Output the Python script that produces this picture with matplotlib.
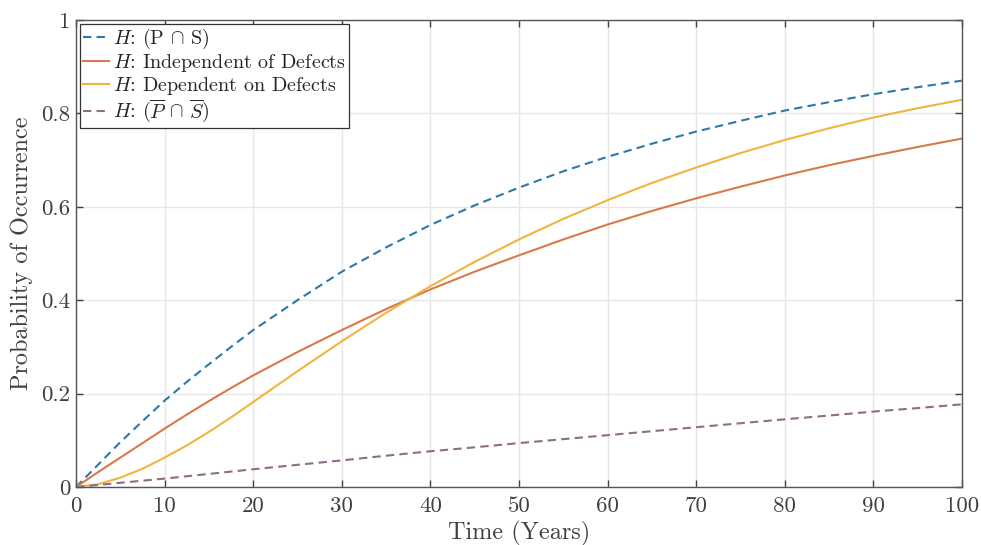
import numpy as np
import matplotlib
matplotlib.use("Agg")
import matplotlib.pyplot as plt

# Values
years = [0, 2.5, 5, 7.5, 10, 12.5, 15, 17.5, 20, 25, 30, 35, 40, 45, 50,
         55, 60, 65, 70, 75, 80, 85, 90, 95, 100]

p_and_s = [0, 0.048, 0.096, 0.141, 0.185, 0.225, 0.263, 0.300, 0.336, 0.400,
           0.461, 0.513, 0.561, 0.603, 0.641, 0.676, 0.707, 0.735, 0.761,
           0.784, 0.806, 0.824, 0.841, 0.856, 0.870]
independent = [0, 0.032, 0.063, 0.094, 0.125, 0.155, 0.184, 0.212, 0.239,
               0.289, 0.336, 0.381, 0.423, 0.461, 0.496, 0.530, 0.562, 0.591,
               0.618, 0.643, 0.667, 0.689, 0.709, 0.728, 0.746]
dependent = [0, 0.006, 0.020, 0.039, 0.063, 0.089, 0.118, 0.149, 0.182,
             0.248, 0.312, 0.373, 0.430, 0.482, 0.530, 0.574, 0.614, 0.651,
             0.684, 0.715, 0.743, 0.768, 0.791, 0.811, 0.829]
not_p_not_s = [0, 0.0045, 0.009, 0.0135, 0.018, 0.023, 0.028, 0.033, 0.038,
               0.0475, 0.057, 0.067, 0.0765, 0.085, 0.094, 0.1025, 0.111,
               0.1195, 0.128, 0.1365, 0.145, 0.153, 0.1615, 0.169, 0.177]

labels = [r"$H$: (P $\cap$ S)",
          r"$H$: Independent of Defects",
          r"$H$: Dependent on Defects",
          r"$H$: $(\overline{P}\,\cap\,\overline{S})$"]

x_ticks = [0, 10, 20, 30, 40, 50, 60, 70, 80, 90, 100]
y_ticks = [0, 0.2, 0.4, 0.6, 0.8, 1]
y_tick_labels = ["0", "0.2", "0.4", "0.6", "0.8", "1"]

plt.rcParams["font.family"] = "cmr10"
plt.rcParams["mathtext.fontset"] = "cm"
plt.rcParams["axes.formatter.use_mathtext"] = True

text_col = "#404040"
fig = plt.figure(figsize=(9.81, 5.45), dpi=100)
ax = fig.add_axes([0.0775, 0.1064, 0.903, 0.857])

ax.plot(years, p_and_s, color="#2b79aa", lw=1.5, dashes=(4, 2.5), label=labels[0])
ax.plot(years, independent, color="#d9794a", lw=1.5, label=labels[1])
ax.plot(years, dependent, color="#efb53f", lw=1.5, label=labels[2])
ax.plot(years, not_p_not_s, color="#8e6c8a", lw=1.5, dashes=(4, 2.5), label=labels[3])

ax.set_xlim(0, 100)
ax.set_ylim(0, 1)
ax.set_xticks(x_ticks)
ax.set_xticklabels([str(t) for t in x_ticks])
ax.set_yticks(y_ticks)
ax.set_yticklabels(y_tick_labels)
ax.grid(True, color="#e6e6e6", lw=1)
ax.set_axisbelow(True)

ax.tick_params(direction="in", length=5, width=1, top=True, right=True,
               colors=text_col, labelsize=16.5, pad=4)
ax.tick_params(axis="x", pad=7)
for s in ax.spines.values():
    s.set_color("#555555")
    s.set_linewidth(1)

ax.set_xlabel("Time (Years)", fontsize=17.5, color=text_col, labelpad=3)
ax.set_ylabel("Probability of Occurrence", fontsize=17.5, color=text_col, labelpad=6)

leg = ax.legend(loc="upper left", fontsize=14.5, handlelength=1.3, handletextpad=0.2,
                borderpad=0.15, labelspacing=0.05, borderaxespad=0.2,
                fancybox=False, framealpha=1, edgecolor="#333333")
leg.get_frame().set_linewidth(0.9)
for t in leg.get_texts():
    t.set_color("#262626")

fig.savefig("out.png", dpi=100)
